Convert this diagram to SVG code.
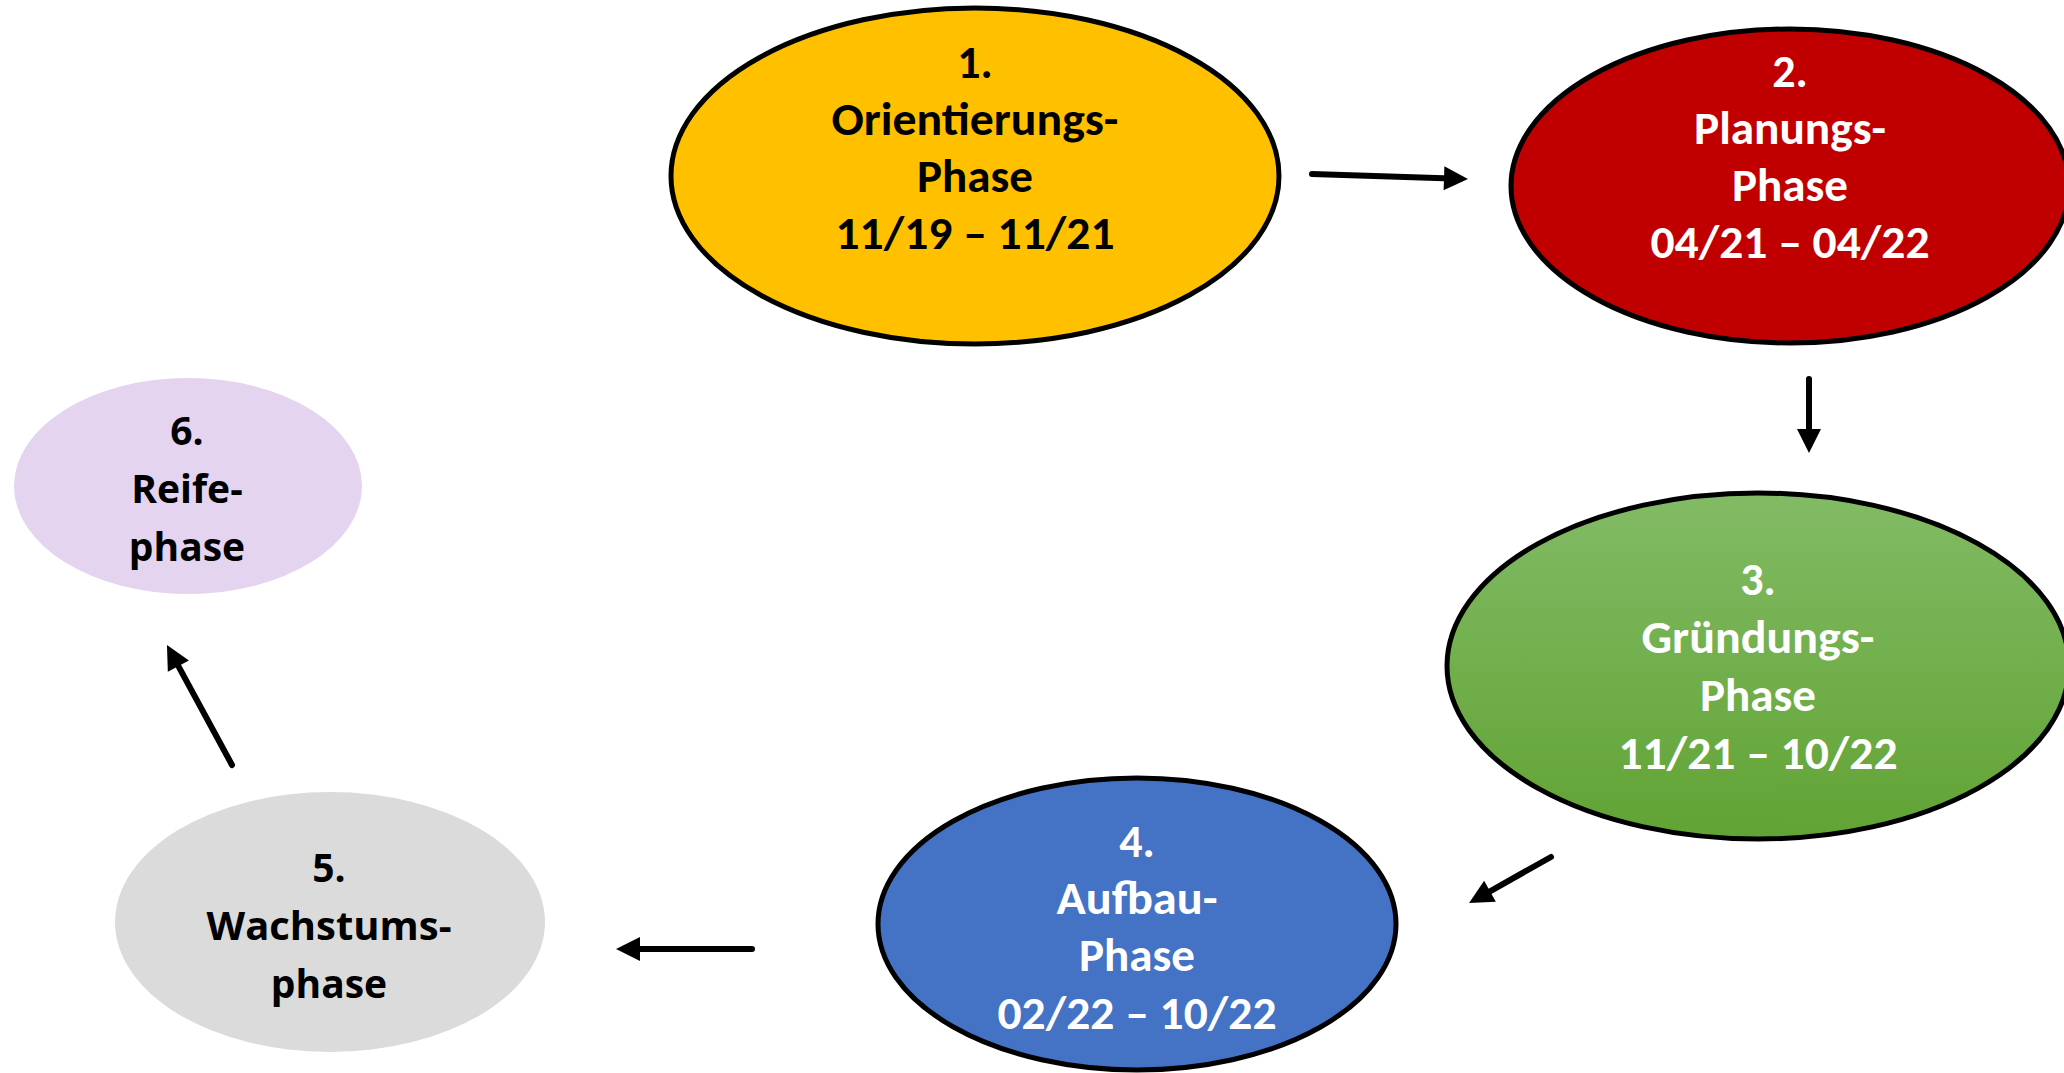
<svg xmlns="http://www.w3.org/2000/svg" width="2064" height="1073" viewBox="0 0 2064 1073">
<style>
.n{stroke:#000;stroke-width:5}
.t{font-family:Carlito,Lato,"Liberation Sans",sans-serif;font-weight:bold;font-size:46px;text-anchor:middle}
.s{font-family:"Open Sans","DejaVu Sans",sans-serif;font-weight:bold;font-size:39px;text-anchor:middle;fill:#000}
.w{fill:#fff}
.k{fill:#000}
.c{stroke:#000;stroke-width:6;fill:none;stroke-linecap:round}
</style>
<defs>
<marker id="ah" markerUnits="userSpaceOnUse" markerWidth="26" markerHeight="24" refX="0" refY="12" orient="auto" overflow="visible">
<path d="M0,0 L24,12 L0,24 Z" fill="#000"/>
</marker>
<linearGradient id="gg" x1="0" y1="0" x2="0" y2="1">
<stop offset="0" stop-color="#82BB65"/>
<stop offset="1" stop-color="#61A334"/>
</linearGradient>
</defs>
<rect width="2064" height="1073" fill="#fff"/>
<g id="node1">
<ellipse class="n" cx="975" cy="176" rx="304" ry="168" fill="#FFC000"/>
<text class="t k" x="975" y="78">1.</text>
<text class="t k" x="975" y="135" textLength="287" lengthAdjust="spacingAndGlyphs">Orientierungs-</text>
<text class="t k" x="975" y="192" textLength="116" lengthAdjust="spacingAndGlyphs">Phase</text>
<text class="t k" x="975" y="249" textLength="279" lengthAdjust="spacingAndGlyphs">11/19 – 11/21</text>
</g>
<g id="node2">
<ellipse class="n" cx="1790" cy="186" rx="279" ry="157" fill="#C00000"/>
<text class="t w" x="1790" y="87">2.</text>
<text class="t w" x="1790" y="144" textLength="192" lengthAdjust="spacingAndGlyphs">Planungs-</text>
<text class="t w" x="1790" y="201" textLength="116" lengthAdjust="spacingAndGlyphs">Phase</text>
<text class="t w" x="1790" y="258" textLength="279" lengthAdjust="spacingAndGlyphs">04/21 – 04/22</text>
</g>
<g id="node3">
<ellipse class="n" cx="1758" cy="666" rx="311" ry="173" fill="url(#gg)"/>
<text class="t w" x="1758" y="595">3.</text>
<text class="t w" x="1758" y="653" textLength="233" lengthAdjust="spacingAndGlyphs">Gründungs-</text>
<text class="t w" x="1758" y="711" textLength="116" lengthAdjust="spacingAndGlyphs">Phase</text>
<text class="t w" x="1758" y="769" textLength="279" lengthAdjust="spacingAndGlyphs">11/21 – 10/22</text>
</g>
<g id="node4">
<ellipse class="n" cx="1137" cy="924" rx="259" ry="146" fill="#4472C4"/>
<text class="t w" x="1137" y="857">4.</text>
<text class="t w" x="1137" y="914" textLength="161" lengthAdjust="spacingAndGlyphs">Aufbau-</text>
<text class="t w" x="1137" y="971" textLength="116" lengthAdjust="spacingAndGlyphs">Phase</text>
<text class="t w" x="1137" y="1029" textLength="279" lengthAdjust="spacingAndGlyphs">02/22 – 10/22</text>
</g>
<g id="node5">
<ellipse cx="330" cy="922" rx="215" ry="130" fill="#DBDBDB"/>
<text class="s" x="329" y="882">5.</text>
<text class="s" x="329" y="940" textLength="245" lengthAdjust="spacingAndGlyphs">Wachstums-</text>
<text class="s" x="329" y="998">phase</text>
</g>
<g id="node6">
<ellipse cx="188" cy="486" rx="174" ry="108" fill="#E4D4F0"/>
<text class="s" x="187" y="445">6.</text>
<text class="s" x="187" y="503">Reife-</text>
<text class="s" x="187" y="561">phase</text>
</g>
<g id="connectors">
<line class="c" x1="1312" y1="174" x2="1444" y2="178.2" marker-end="url(#ah)"/>
<line class="c" x1="1809" y1="379" x2="1809" y2="429" marker-end="url(#ah)"/>
<line class="c" x1="1551" y1="857" x2="1490" y2="891.3" marker-end="url(#ah)"/>
<line class="c" x1="752" y1="949" x2="640" y2="949" marker-end="url(#ah)"/>
<line class="c" x1="232" y1="765" x2="178.4" y2="666.1" marker-end="url(#ah)"/>
</g>
</svg>
